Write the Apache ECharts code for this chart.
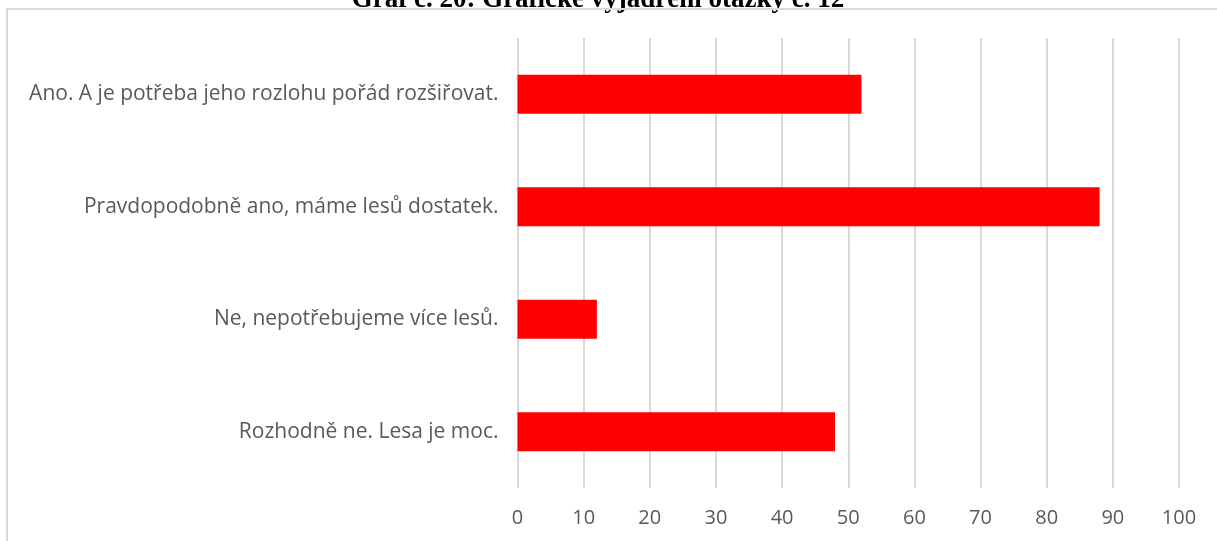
<!DOCTYPE html>
<html>
<head>
<meta charset="utf-8">
<script src="https://cdn.jsdelivr.net/npm/echarts@6/dist/echarts.min.js"></script>
<style>
  html, body { margin: 0; padding: 0; background: #fff; }
  #chart { width: 1217px; height: 541px; }
</style>
</head>
<body>
<div id="chart"></div>
<script>
var categories = [
    'Ano. A je potřeba jeho rozlohu pořád rozšiřovat.',
    'Pravdopodobně ano, máme lesů dostatek.',
    'Ne, nepotřebujeme více lesů.',
    'Rozhodně ne. Lesa je moc.'
];
var values = [52, 88, 12, 48];
var xTicks = { min: 0, max: 100, step: 10 };

var chart = echarts.init(document.getElementById('chart'));
var option = {
    animation: false,
    title: {
        text: 'Graf č. 20: Grafické vyjádření otázky č. 12',
        left: 593,
        textAlign: 'center',
        top: -18,
        textStyle: {
            fontFamily: 'Liberation Serif',
            fontWeight: 'bold',
            fontSize: 27,
            color: '#000'
        }
    },
    graphic: [
        {
            type: 'rect',
            z: 100,
            shape: { x: 7, y: 9, width: 1400, height: 700 },
            style: { fill: 'none', stroke: '#d9d9d9', lineWidth: 2 },
            silent: true
        }
    ],
    grid: {
        left: 517.5,
        right: 38,
        top: 38,
        bottom: 53
    },
    xAxis: {
        type: 'value',
        min: xTicks.min,
        max: xTicks.max,
        interval: xTicks.step,
        axisLine: { show: false },
        axisTick: { show: false },
        splitLine: { lineStyle: { color: '#d9d9d9', width: 2 } },
        axisLabel: {
            margin: 20,
            color: '#595959',
            fontSize: 20,
            fontFamily: 'Open Sans'
        }
    },
    yAxis: {
        type: 'category',
        inverse: true,
        data: categories,
        axisLine: { show: false },
        axisTick: { show: false },
        axisLabel: {
            margin: 19,
            color: '#595959',
            fontSize: 21,
            fontFamily: 'Open Sans'
        }
    },
    series: [
        {
            type: 'bar',
            data: values,
            barWidth: 39,
            itemStyle: { color: '#ff0000' }
        }
    ]
};
chart.setOption(option);
</script>
</body>
</html>
